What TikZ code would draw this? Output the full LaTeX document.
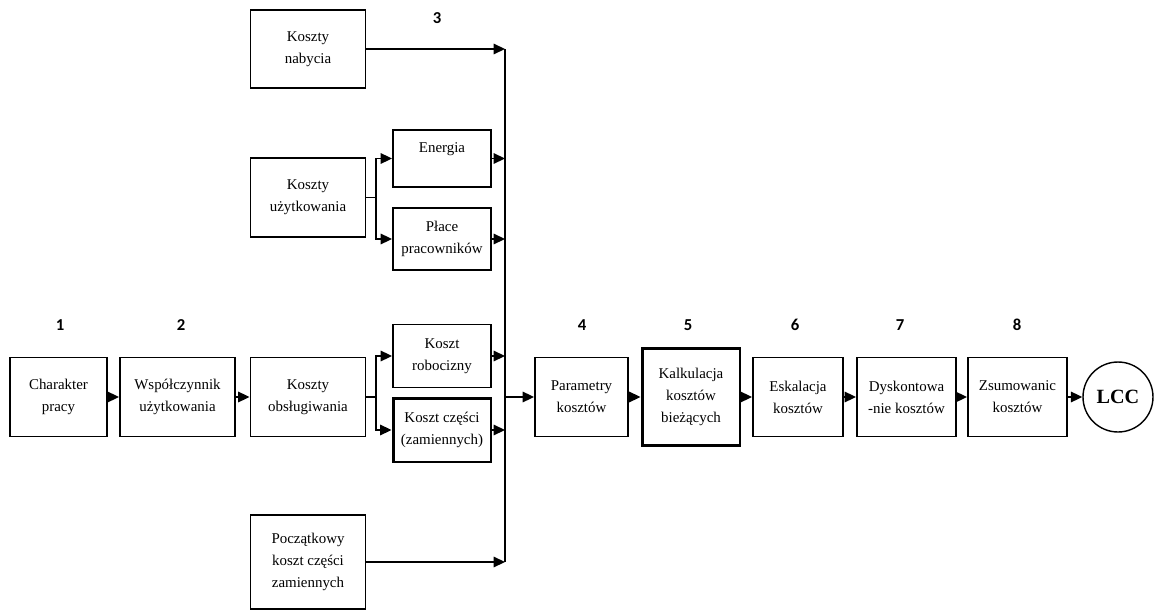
\documentclass[tikz,border=0pt]{standalone}
\usepackage{fontspec}
\setmainfont{Liberation Serif}
\newfontfamily\numfont{Carlito}
\usetikzlibrary{arrows.meta}
\tikzset{
  blok/.style={draw, line width=1.1pt, align=center, inner sep=1pt,
               font=\fontsize{8.5}{12.5}\selectfont},
  wide/.style={blok, minimum width=2.3cm, minimum height=1.58cm},
  sub/.style={blok, minimum width=1.96cm},
  stage/.style={blok, minimum height=1.58cm},
  grube/.style={line width=1.7pt},
  flow/.style={-{Triangle[length=6.5pt,width=6pt]}, line width=0.9pt},
  link/.style={line width=0.9pt},
  num/.style={font=\numfont\bfseries\fontsize{9.5}{11}\selectfont},
  wynik/.style={circle, draw, line width=0.8pt, minimum size=1.4cm,
                font=\bfseries\fontsize{11.5}{13}\selectfont}
}

\begin{document}
\begin{tikzpicture}[x=0.02cm,y=-0.02cm]
    \useasboundingbox (0,0) rectangle (1154,612);
    % step numbers
    \foreach \i/\x in {1/60,2/181,4/582,5/688,6/795,7/900,8/1017}
      \node[num] (n\i) at (\x,325) {\i};
    \node[num] (n3) at (437,18) {3};
    % cost sources
    \node[stage, minimum width=1.94cm] (charakter) at (58.5,397) {Charakter\\pracy};
    \node[stage, minimum width=2.3cm] (wspol) at (177.5,397) {Współczynnik\\użytkowania};
    \node[wide] (obsl) at (308,397) {Koszty\\obsługiwania};
    \node[wide, minimum height=1.56cm] (nabycie) at (308,49) {Koszty\\nabycia};
    \node[wide] (uzytk) at (308,197.5) {Koszty\\użytkowania};
    \node[wide, minimum height=1.88cm] (poczatk) at (308,562) {Początkowy\\koszt części\\zamiennych};
    \node[sub, minimum height=1.14cm] (energia) at (442,158.5) {Energia\\~};
    \node[sub, minimum height=1.24cm] (place) at (442,239) {Płace\\pracowników};
    \node[sub, minimum height=1.26cm] (robocizna) at (442,356) {Koszt\\robocizny};
    \node[sub, grube, minimum height=1.28cm] (czesci) at (442,430) {Koszt części\\(zamiennych)};
    % calculation chain
    \node[stage, minimum width=1.86cm] (param) at (581.5,397) {Parametry\\kosztów};
    \node[blok, grube, minimum width=1.96cm, minimum height=1.94cm] (kalk) at (691,397) {Kalkulacja\\kosztów\\bieżących};
    \node[stage, minimum width=1.8cm] (eskal) at (798,397) {Eskalacja\\kosztów};
    \node[stage, minimum width=1.98cm] (dyskont) at (906.5,397) {Dyskontowa\\-nie kosztów};
    \node[stage, minimum width=1.98cm] (suma) at (1017.5,397) {Zsumowanic\\kosztów};
    \node[wynik] (lcc) at (1118,397) {LCC};
    % junctions and bus
    \coordinate (ju) at (376,197.5);
    \coordinate (jo) at (376,397);
    \coordinate (busTop) at (505,49);
    \coordinate (busMid) at (505,397);
    \coordinate (busBot) at (505,562);
    \draw[flow] (charakter) -- (wspol);
    \draw[flow] (wspol) -- (obsl);
    \draw[link] (uzytk.east) -- (ju);
    \draw[flow] (ju) |- (energia.west);
    \draw[flow] (ju) |- (place.west);
    \draw[link] (obsl.east) -- (jo);
    \draw[flow] (jo) |- (robocizna.west);
    \draw[flow] (jo) |- (czesci.west);
    \draw[link] (busTop) -- (busBot);
    \draw[flow] (nabycie.east) -- (nabycie.east -| busTop);
    \draw[flow] (energia.east) -- (energia.east -| busTop);
    \draw[flow] (place.east) -- (place.east -| busTop);
    \draw[flow] (robocizna.east) -- (robocizna.east -| busTop);
    \draw[flow] (czesci.east) -- (czesci.east -| busTop);
    \draw[flow] (poczatk.east) -- (busBot);
    \draw[flow] (busMid) -- (param);
    \draw[flow] (param) -- (kalk);
    \draw[flow] (kalk) -- (eskal);
    \draw[flow] (eskal) -- (dyskont);
    \draw[flow] (dyskont) -- (suma);
    \draw[flow] (suma) -- (lcc);
  \end{tikzpicture}
\end{document}
